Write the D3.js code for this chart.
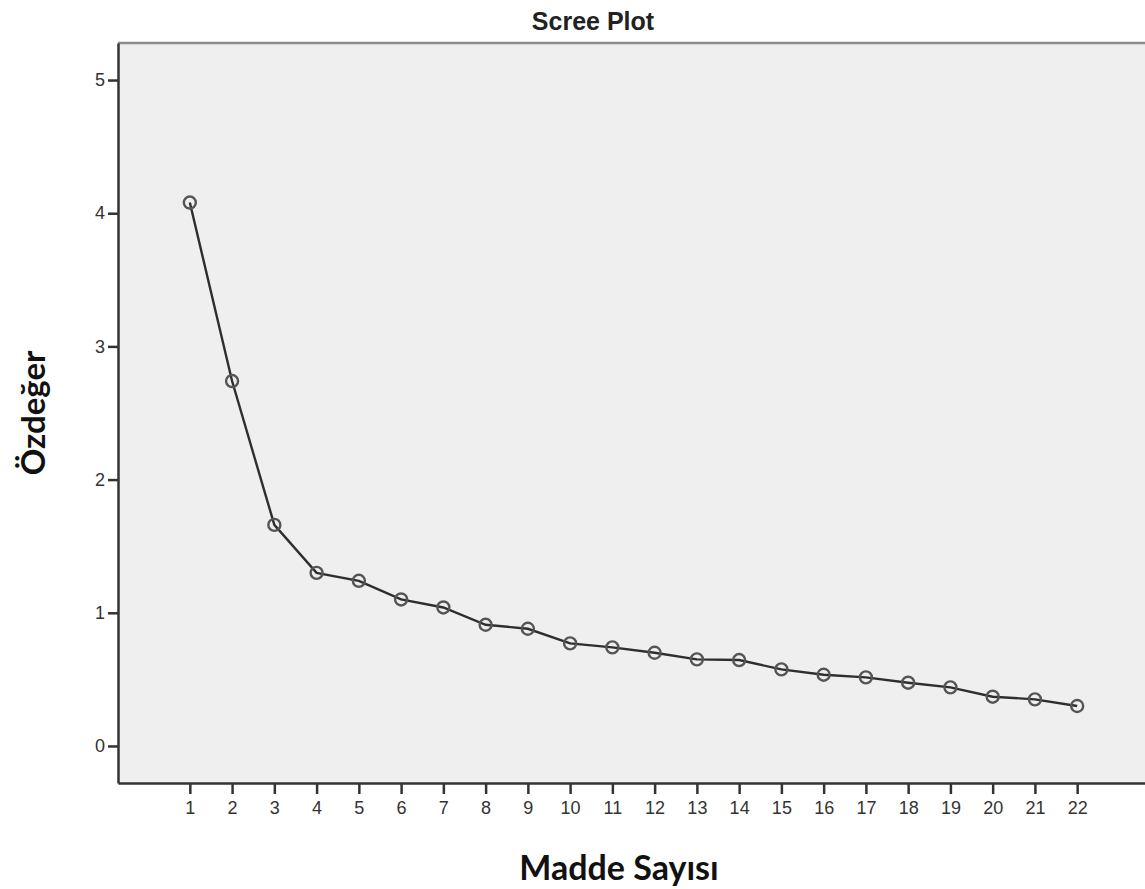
<!DOCTYPE html>
<html>
<head>
<meta charset="utf-8">
<script src="https://cdn.jsdelivr.net/npm/d3@7"></script>
<style>
  html, body { margin: 0; padding: 0; background: #ffffff; }
  svg { display: block; }
</style>
</head>
<body>
<svg id="chart" width="1145" height="889"></svg>
<script>
// ---- data ----
const components = [1,2,3,4,5,6,7,8,9,10,11,12,13,14,15,16,17,18,19,20,21,22];
const eigenvalues = [4.08, 2.74, 1.66, 1.30, 1.24, 1.10, 1.04, 0.91, 0.88, 0.77, 0.74, 0.70, 0.65, 0.645, 0.575, 0.535, 0.515, 0.475, 0.44, 0.37, 0.35, 0.30];
const yTicks = [0, 1, 2, 3, 4, 5];
const xTicks = components;
const titleText = "Scree Plot";
const xLabel = "Madde Sayısı";
const yLabel = "Özdeğer";

// ---- layout ----
const svg = d3.select("#chart");
const plotL = 118, plotR = 1149, plotT = 43, plotB = 783;

const x = d3.scaleLinear().domain([-0.7, 23.7]).range([plotL, plotR]);
const y = d3.scaleLinear().domain([-0.278, 5.278]).range([plotB, plotT]);

// background
svg.append("rect")
  .attr("x", plotL).attr("y", plotT)
  .attr("width", plotR - plotL).attr("height", plotB - plotT)
  .attr("fill", "#efefef");

// top border (gray)
svg.append("line")
  .attr("x1", plotL).attr("x2", plotR)
  .attr("y1", plotT).attr("y2", plotT)
  .attr("stroke", "#8c8c8c").attr("stroke-width", 2.5);

// axes
const yAxis = d3.axisLeft(y).tickValues(yTicks).tickFormat(d3.format("d"))
  .tickSize(10).tickSizeOuter(0).tickPadding(3);
const xAxis = d3.axisBottom(x).tickValues(xTicks).tickFormat(d3.format("d"))
  .tickSize(11).tickSizeOuter(0).tickPadding(7);

const gy = svg.append("g").attr("transform", `translate(${plotL},0)`).call(yAxis);
const gx = svg.append("g").attr("transform", `translate(0,${plotB})`).call(xAxis);

[gx, gy].forEach(g => {
  g.select(".domain").attr("stroke", "#333").attr("stroke-width", 2.5);
  g.selectAll(".tick line").attr("stroke", "#333").attr("stroke-width", 2.5);
  g.selectAll(".tick text")
    .attr("fill", "#333")
    .style("font-family", "'Liberation Sans', Arial, sans-serif")
    .style("font-size", "18px");
});

// line
const line = d3.line().x((d, i) => x(components[i])).y(d => y(d));
svg.append("path")
  .datum(eigenvalues)
  .attr("d", line)
  .attr("fill", "none")
  .attr("stroke", "#2e2e2e")
  .attr("stroke-width", 2.4);

// markers
svg.append("g").selectAll("circle")
  .data(eigenvalues)
  .join("circle")
  .attr("cx", (d, i) => x(components[i]))
  .attr("cy", d => y(d))
  .attr("r", 6)
  .attr("fill", "none")
  .attr("stroke", "#555")
  .attr("stroke-width", 2.4);

// title
svg.append("text")
  .attr("x", 593).attr("y", 30)
  .attr("text-anchor", "middle")
  .attr("fill", "#222")
  .style("font-family", "'Liberation Sans', Arial, sans-serif")
  .style("font-weight", "bold")
  .style("font-size", "25px")
  .text(titleText);

// x label
svg.append("text")
  .attr("x", 619).attr("y", 880)
  .attr("text-anchor", "middle")
  .attr("fill", "#111")
  .style("font-family", "Lato, 'Open Sans', sans-serif")
  .style("font-weight", "bold")
  .style("font-size", "34px")
  .text(xLabel);

// y label
svg.append("text")
  .attr("transform", "translate(45,413) rotate(-90)")
  .attr("text-anchor", "middle")
  .attr("fill", "#111")
  .style("font-family", "Lato, 'Open Sans', sans-serif")
  .style("font-weight", "bold")
  .style("font-size", "33px")
  .text(yLabel);
</script>
</body>
</html>
